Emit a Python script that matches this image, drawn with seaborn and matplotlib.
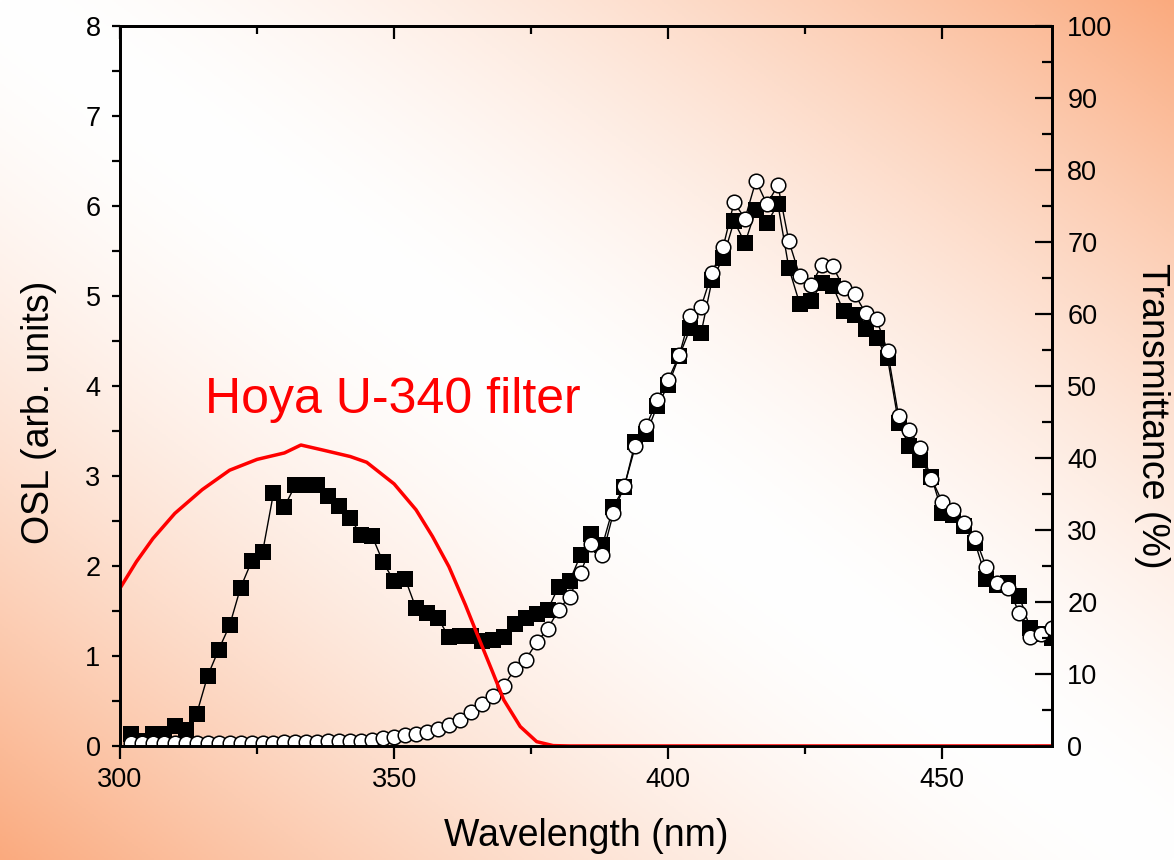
import numpy as np
import matplotlib
matplotlib.use("Agg")
import matplotlib.pyplot as plt
from matplotlib.ticker import MultipleLocator
import seaborn as sns

# OSL spectra, one point every 2 nm from 302 to 470 nm
wavelength = np.arange(302, 471, 2)
osl_squares = [
    0.13, 0.06, 0.13, 0.13, 0.22, 0.18, 0.36, 0.78, 1.07, 1.34,
    1.76, 2.05, 2.15, 2.81, 2.66, 2.90, 2.90, 2.90, 2.78, 2.67,
    2.53, 2.34, 2.33, 2.04, 1.83, 1.86, 1.53, 1.48, 1.42, 1.21,
    1.22, 1.22, 1.17, 1.18, 1.21, 1.36, 1.42, 1.47, 1.51, 1.77,
    1.83, 2.12, 2.36, 2.23, 2.66, 2.88, 3.38, 3.47, 3.78, 4.01,
    4.33, 4.64, 4.59, 5.18, 5.42, 5.83, 5.59, 5.96, 5.81, 6.02,
    5.31, 4.91, 4.94, 5.14, 5.11, 4.83, 4.79, 4.63, 4.53, 4.31,
    3.59, 3.33, 3.18, 2.99, 2.59, 2.57, 2.44, 2.25, 1.86, 1.79,
    1.81, 1.67, 1.31, 1.24, 1.20,
]
osl_circles = [
    0.03, 0.03, 0.03, 0.03, 0.03, 0.03, 0.03, 0.03, 0.03, 0.03,
    0.03, 0.03, 0.03, 0.03, 0.04, 0.04, 0.04, 0.04, 0.05, 0.05,
    0.05, 0.06, 0.07, 0.09, 0.10, 0.12, 0.13, 0.16, 0.19, 0.23,
    0.29, 0.38, 0.47, 0.56, 0.67, 0.85, 0.96, 1.15, 1.30, 1.51,
    1.66, 1.92, 2.24, 2.12, 2.59, 2.89, 3.33, 3.56, 3.84, 4.07,
    4.34, 4.78, 4.88, 5.26, 5.54, 6.04, 5.86, 6.28, 6.02, 6.23,
    5.61, 5.22, 5.12, 5.34, 5.33, 5.09, 5.02, 4.81, 4.74, 4.39,
    3.67, 3.51, 3.31, 2.97, 2.71, 2.62, 2.48, 2.31, 1.99, 1.81,
    1.76, 1.48, 1.21, 1.24, 1.31,
]

# Hoya U-340 filter transmittance (%)
filter_wl = [300, 303, 306, 310, 315, 320, 325, 330, 333, 337, 342, 345, 350,
             354, 357, 360, 363, 365, 368, 370, 373, 376, 379, 382, 470]
filter_pct = [21.9, 25.6, 28.8, 32.3, 35.6, 38.3, 39.8, 40.7, 41.8, 41.1, 40.2, 39.4, 36.4,
              32.8, 29.1, 24.9, 19.6, 15.8, 10.2, 6.4, 2.7, 0.6, 0.05, 0.0, 0.0]

sns.set_theme(style="ticks", rc={
    "axes.edgecolor": "black", "xtick.color": "black", "ytick.color": "black",
    "text.color": "black", "axes.labelcolor": "black", "axes.linewidth": 2.0,
})
plt.rcParams["font.family"] = ["Liberation Sans", "DejaVu Sans"]

fig = plt.figure(figsize=(11.74, 8.6), dpi=100)

# peach diagonal gradient behind everything
H, W = 430, 587
yy, xx = np.mgrid[0:H, 0:W]
d = np.abs(xx / (W - 1) - yy / (H - 1))
t = (d ** 1.6)[..., None]
peach = np.array([250, 170, 126]) / 255
img = (1 - t) * np.ones(3) + t * peach
bg = fig.add_axes([0, 0, 1, 1])
bg.imshow(img, aspect="auto")
bg.axis("off")

ax = fig.add_axes([0.1022, 0.1326, 0.7939, 0.8372])
ax.set_facecolor("none")

sns.lineplot(x=wavelength, y=osl_squares, ax=ax, color="black", linewidth=1,
             marker="s", markersize=11, markeredgewidth=0)
sns.lineplot(x=wavelength, y=osl_circles, ax=ax, color="black", linewidth=1,
             marker="o", markersize=10.5, markerfacecolor="white",
             markeredgecolor="black", markeredgewidth=1.1)

ax2 = ax.twinx()
sns.lineplot(x=filter_wl, y=filter_pct, ax=ax2, color="red", linewidth=2.5)

ax.set_xlim(300, 470)
ax.set_ylim(0, 8)
ax2.set_ylim(0, 100)

ax.xaxis.set_major_locator(MultipleLocator(50))
ax.xaxis.set_minor_locator(MultipleLocator(25))
ax.yaxis.set_major_locator(MultipleLocator(1))
ax.yaxis.set_minor_locator(MultipleLocator(0.5))
ax2.yaxis.set_major_locator(MultipleLocator(10))
ax2.yaxis.set_minor_locator(MultipleLocator(5))

ax.tick_params(axis="x", which="major", direction="out", length=9, width=1.6,
               labelsize=19.5, pad=6)
ax.tick_params(axis="x", which="minor", direction="out", length=6, width=1.6)
ax.tick_params(axis="y", which="both", direction="out", length=6, width=1.6,
               labelsize=19.5, pad=8)
ax2.tick_params(axis="y", which="major", direction="in", length=12, width=1.6,
                labelsize=19.5, pad=11)
ax2.tick_params(axis="y", which="minor", direction="in", length=7, width=1.6)

top = ax.secondary_xaxis("top")
top.xaxis.set_major_locator(MultipleLocator(50))
top.xaxis.set_minor_locator(MultipleLocator(25))
top.tick_params(which="major", direction="in", length=9, width=1.6, labeltop=False)
top.tick_params(which="minor", direction="in", length=6, width=1.6)

for a in (ax, ax2):
    for s in a.spines.values():
        s.set_linewidth(2.0)

ax.set_xlabel("Wavelength (nm)", fontsize=27)
ax.xaxis.set_label_coords(0.5, -0.1)
ax.set_ylabel("OSL (arb. units)", fontsize=27)
ax.yaxis.set_label_coords(-0.068, 0.464)
ax2.set_ylabel("Transmittance (%)", fontsize=27, rotation=270, va="bottom")
ax2.yaxis.set_label_coords(1.088, 0.458)

ax.text(315.5, 3.7, "Hoya U-340 filter", color="red", fontsize=36,
        ha="left", va="baseline")

fig.savefig("out.png", dpi=100)
